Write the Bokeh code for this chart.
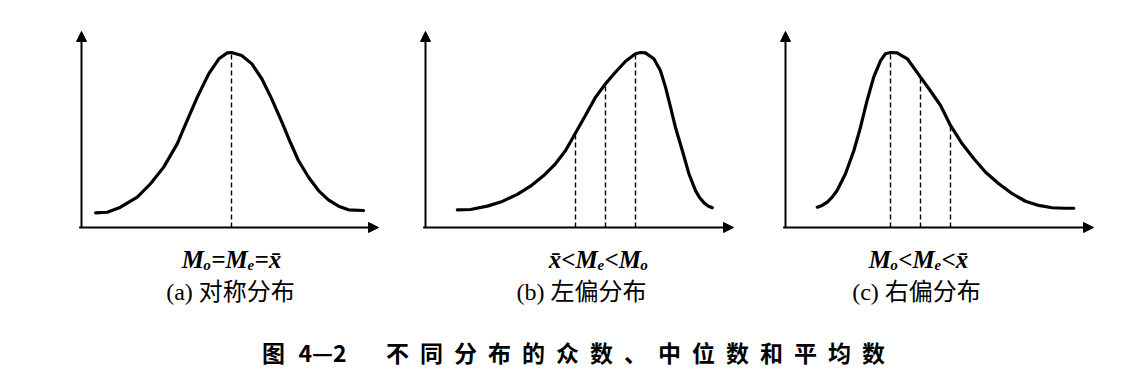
from bokeh.plotting import figure
from bokeh.layouts import column, row
from bokeh.models import Range1d, Arrow, NormalHead, ColumnDataSource
from bokeh.core.properties import value
from bokeh.embed import file_html
from bokeh.resources import INLINE

# ---- data (x: position along axis, y: relative density, peak = 1) ----
a_x = [0.47, 0.86, 1.30, 1.86, 2.30, 2.74, 3.19, 3.52, 3.86, 4.24, 4.58, 4.86, 5.00,
       5.34, 5.68, 6.01, 6.34, 6.68, 6.96, 7.23, 7.57, 7.90, 8.23, 8.57, 8.90, 9.40]
a_y = [0.084, 0.087, 0.116, 0.173, 0.250, 0.345, 0.478, 0.611, 0.745, 0.878, 0.964, 0.998, 1.000,
       0.983, 0.935, 0.850, 0.735, 0.602, 0.487, 0.383, 0.287, 0.211, 0.158, 0.122, 0.101, 0.097]

b_x = [1.06, 1.50, 2.06, 2.56, 3.06, 3.50, 3.94, 4.33, 4.67, 5.00, 5.33, 5.67, 6.00, 6.33,
       6.67, 7.00, 7.17, 7.33, 7.61, 7.83, 8.00, 8.17, 8.33, 8.56, 8.78, 9.00, 9.14, 9.28, 9.42, 9.56]
b_y = [0.101, 0.103, 0.122, 0.149, 0.189, 0.236, 0.297, 0.364, 0.440, 0.540, 0.640, 0.745, 0.821, 0.887,
       0.950, 0.993, 1.000, 0.998, 0.964, 0.897, 0.802, 0.687, 0.573, 0.440, 0.307, 0.211, 0.170, 0.142, 0.123, 0.113]

c_x = [1.06, 1.22, 1.39, 1.55, 1.72, 2.00, 2.28, 2.50, 2.72, 2.94, 3.17, 3.33, 3.50, 3.72, 4.06, 4.50,
       4.78, 5.17, 5.50, 5.89, 6.28, 6.67, 7.11, 7.56, 8.00, 8.44, 8.89, 9.33, 9.61]
c_y = [0.116, 0.126, 0.145, 0.172, 0.211, 0.307, 0.440, 0.573, 0.726, 0.859, 0.954, 0.993, 1.000, 0.998, 0.964, 0.859,
       0.793, 0.697, 0.583, 0.478, 0.393, 0.316, 0.250, 0.193, 0.150, 0.126, 0.113, 0.110, 0.110]

# positions of mean / median / mode (dashed lines)
a_marks = [5.00]
b_marks = [5.00, 6.00, 7.00]
c_marks = [3.50, 4.50, 5.50]

math_labels = ["Mₒ=Mₑ=x̄", "x̄<Mₑ<Mₒ", "Mₒ<Mₑ<x̄"]
sub_labels = ["(a) 对称分布", "(b) 左偏分布", "(c) 右偏分布"]
caption_head = ["图", "4—2"]
caption_title = "不同分布的众数、中位数和平均数"

# ---- layout ----
SERIF = value("Liberation Serif, Noto Sans CJK SC")
PXU, PYU = 30.0, 175.0           # pixels per unit
TOP, BOTTOM, BASE = 0, 310, 227  # page y of panel top, panel bottom, x-axis


def panel(xs, ys, marks, math, sub, left, width, origin, x_end, math_x, sub_x):
    x0 = (left - origin) / PXU
    x1 = (left + width - origin) / PXU
    y0 = (BASE - BOTTOM) / PYU
    y1 = (BASE - TOP) / PYU
    p = figure(width=width, height=BOTTOM - TOP, x_range=Range1d(x0, x1), y_range=Range1d(y0, y1),
               toolbar_location=None, output_backend="svg", min_border=0,
               x_axis_location=None, y_axis_location=None, outline_line_color=None,
               background_fill_color="white", border_fill_color="white")
    p.grid.grid_line_color = None

    y_top = (BASE - 31) / PYU
    for (xe, ye) in [(x_end, 0), (0, y_top)]:
        p.add_layout(Arrow(end=NormalHead(size=10, fill_color="black", line_color="black", line_width=1),
                           x_start=-0.08 if ye == 0 else 0, y_start=0, x_end=xe, y_end=ye,
                           line_width=2, line_color="black"))

    lookup = dict(zip(xs, ys))
    p.segment(x0=marks, y0=[0] * len(marks), x1=marks, y1=[lookup[m] for m in marks],
              line_color="black", line_width=1.4, line_dash="5 3")
    p.line(xs, ys, line_color="black", line_width=3.2, line_join="round", line_cap="round")

    p.text(x=[math_x], y=[(BASE - 259) / PYU], text=[math], text_font=SERIF, text_font_style="bold italic",
           text_font_size="25px", text_align="center", text_baseline="middle", text_color="black")
    p.text(x=[sub_x], y=[(BASE - 291) / PYU], text=[sub], text_font=SERIF,
           text_font_size="24px", text_align="center", text_baseline="middle", text_color="black")
    return p


pa = panel(a_x, a_y, a_marks, math_labels[0], sub_labels[0], 0, 400, 81, (378 - 81) / PXU,
           (231 - 81) / PXU, (230 - 81) / PXU)
pb = panel(b_x, b_y, b_marks, math_labels[1], sub_labels[1], 400, 360, 425, (733 - 425) / PXU,
           (598 - 425) / PXU, (581 - 425) / PXU)
pc = panel(c_x, c_y, c_marks, math_labels[2], sub_labels[2], 760, 350, 785, (1093 - 785) / PXU,
           (918 - 785) / PXU, (916 - 785) / PXU)

cap = figure(width=1110, height=64, x_range=Range1d(0, 1110), y_range=Range1d(0, 64),
             toolbar_location=None, output_backend="svg", min_border=0,
             x_axis_location=None, y_axis_location=None, outline_line_color=None)
cap.grid.grid_line_color = None
chars = list(caption_title)
cap_src = ColumnDataSource(dict(x=[273, 322] + [397 + 34 * i for i in range(len(chars))],
                                text=caption_head + chars))
cap.text(x="x", y=23, text="text", source=cap_src, text_font=value("Noto Sans CJK SC"),
         text_font_style="bold", text_font_size="23px", text_align="center",
         text_baseline="middle", text_color="black")

layout = column(row(pa, pb, pc, spacing=0), cap, spacing=0)
open("out.html", "w").write(file_html(layout, INLINE))
